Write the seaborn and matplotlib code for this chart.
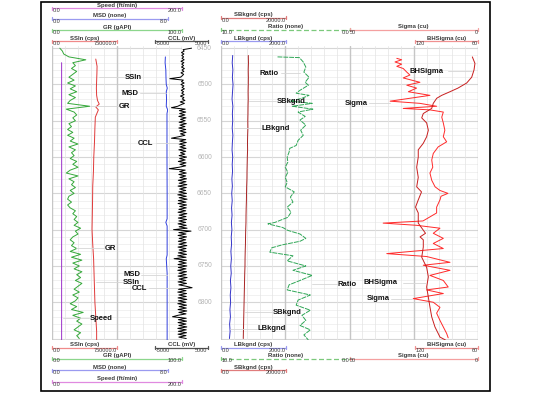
import numpy as np
import matplotlib
matplotlib.use("Agg")
import matplotlib.pyplot as plt
from matplotlib.patches import Rectangle
import seaborn as sns

sns.set_style("white")
plt.rcParams["font.family"] = ["Liberation Sans", "DejaVu Sans"]

W, H = 534, 394
TOP, BOT = 46, 340
D_TOP, D_BOT = 6447, 6852

depth_ticks = [6450, 6500, 6550, 6600, 6650, 6700, 6750, 6800]

speed_depth = [6470, 6550, 6650, 6750, 6852]
speed = [14.8, 14.8, 14.9, 14.8, 14.8]

gr_depth = np.arange(6450, 6851, 4)
gr = [6, 8, 9, 13, 26, 16, 18, 15, 19, 16,
      13, 17, 12, 18, 14, 19, 13, 18, 14, 12,
      29, 11, 17, 19, 16, 18, 13, 15, 12, 16,
      12, 17, 14, 20, 13, 18, 15, 17, 14, 19,
      16, 20, 14, 11, 20, 13, 17, 15, 18, 14,
      17, 13, 12, 15, 12, 14, 18, 16, 19, 17,
      20, 17, 22, 18, 20, 16, 14, 17, 15, 19,
      14, 22, 15, 23, 16, 21, 17, 23, 19, 22,
      18, 23, 20, 17, 21, 16, 20, 18, 14, 19,
      15, 24, 16, 22, 19, 23, 20, 17, 22, 19, 21]

ssin_depth = [6465, 6475, 6485, 6495, 6505, 6515, 6522, 6527, 6531, 6535, 6545,
              6560, 6580, 6600, 6620, 6640, 6660, 6680, 6700, 6720, 6740, 6760,
              6780, 6800, 6820, 6840, 6852]
ssin = [505000, 520000, 518000, 515000, 512000, 515000, 525000, 545000, 505000,
        535000, 500000, 495000, 490000, 482000, 478000, 470000, 468000, 465000,
        462000, 470000, 480000, 485000, 490000, 495000, 505000, 515000, 515000]

msd_depth = [6462, 6470, 6480, 6490, 6500, 6505, 6510, 6520, 6530, 6535, 6540,
             6560, 6600, 6650, 6685, 6690, 6695, 6720, 6735, 6740, 6760, 6800, 6852]
msd = [7.82, 7.80, 7.85, 7.86, 7.88, 7.95, 7.88, 7.90, 7.88, 7.98, 7.93, 7.93,
       7.93, 7.94, 7.94, 7.85, 7.94, 7.94, 7.94, 7.88, 7.94, 7.94, 7.94]

ccl_depth = np.arange(6450, 6851, 2)
ccl = [1900, 300, 500, 0, 450, 50, 400, 100, 500, -100,
       450, 50, 400, 0, 550, 100, 450, -100, 400, 150,
       -200, -2200, 350, 0, 500, -100, 450, 100, 550, -50,
       400, 50, 500, -200, 450, 150, 650, -250, 550, -150,
       -700, -1900, 700, -400, 800, -350, 650, -500, 850, -200,
       700, -450, 900, -300, 650, -500, 800, -350, 850, -200,
       650, -500, -1900, 800, -350, 900, -450, 700, -300, 850,
       -500, 800, -200, 650, -450, 950, -350, 700, -600, 850,
       -300, 800, -450, -2300, 700, -350, 900, -500, 800, -300,
       950, -600, 850, -450, 1000, -650, 900, -350, 800, -500,
       950, -700, 900, -450, 1050, -600, 850, -650, 950, -350,
       900, -500, 800, -650, 1000, -450, 850, -600, 950, -500,
       800, -650, 900, -450, 1050, -1500, 1800, -500, 850, -650,
       950, -450, 800, -600, 900, -500, 1000, -650, 850, -450,
       900, -600, 950, -700, 850, -1400, 950, -500, 900, -650,
       1000, -600, 850, -700, 950, -500, 900, -650, 1050, -450,
       850, -650, 950, -500, 900, 2000, -600, 850, -700, 950,
       -500, 900, -650, 1000, -600, 850, -700, 950, -450, 900,
       -650, 1000, -500, 850, -700, -1700, 900, -600, 950, -650,
       850, -500, 1000, -700, 900, -600, 950, -650, 850, -500,
       900]

bkg_depth = np.arange(6460, 6851, 10)
lbkgnd = [360, 345, 365, 350, 370, 355, 340, 365, 350, 360,
          345, 365, 350, 340, 360, 345, 355, 335, 350, 330,
          345, 325, 340, 320, 335, 315, 325, 305, 320, 300,
          315, 290, 305, 285, 295, 275, 290, 265, 280, 260]
sbkgnd = [8400, 8450, 8380, 8420, 8400, 8350, 8380, 8320, 8300, 8250,
          8280, 8200, 8150, 8180, 8100, 8050, 8000, 7980, 7900, 7850,
          7820, 7750, 7700, 7680, 7600, 7550, 7520, 7450, 7400, 7380,
          7300, 7250, 7200, 7150, 7100, 7050, 7000, 6950, 6900, 6850]

ratio_depth = [6462, 6463, 6469, 6476, 6483, 6490, 6497, 6501, 6508, 6512,
               6515, 6519, 6523, 6526, 6530, 6534, 6538, 6544, 6549, 6556,
               6563, 6570, 6577, 6584, 6588, 6593, 6600, 6607, 6614, 6621,
               6628, 6635, 6641, 6648, 6655, 6662, 6669, 6676, 6683, 6690,
               6692, 6697, 6701, 6706, 6712, 6716, 6721, 6725, 6731, 6736,
               6743, 6750, 6756, 6763, 6770, 6776, 6783, 6790, 6797, 6804,
               6811, 6818, 6825, 6832, 6838, 6845, 6852]
ratio = [5.6, 3.9, 3.6, 3.4, 3.55, 3.15, 3.45, 3.2, 3.85, 4.15,
         3.15, 3.7, 4.6, 2.9, 4.45, 2.85, 4.0, 3.45, 3.85, 3.4,
         3.8, 3.6, 4.0, 4.15, 4.65, 4.7, 4.85, 4.8, 5.0, 4.8,
         5.0, 4.85, 5.0, 4.3, 4.6, 4.4, 4.85, 4.55, 4.8, 5.8,
         6.35, 5.2, 4.8, 3.85, 3.4, 3.85, 5.25, 6.05, 6.2, 4.4,
         4.85, 3.4, 4.4, 2.9, 3.85, 4.7, 4.85, 3.05, 4.0, 4.15,
         3.05, 3.7, 3.4, 3.85, 3.05, 3.55, 3.2]

sigma_depth = [6464, 6466, 6469, 6472, 6475, 6478, 6483, 6487, 6491, 6497,
               6501, 6505, 6510, 6515, 6519, 6523, 6526, 6530, 6533, 6535,
               6538, 6545, 6553, 6563, 6572, 6579, 6586, 6595, 6604, 6614,
               6622, 6632, 6641, 6646, 6650, 6654, 6659, 6669, 6677, 6688,
               6691, 6694, 6698, 6705, 6712, 6719, 6726, 6733, 6737, 6745,
               6749, 6756, 6763, 6770, 6779, 6783, 6788, 6795, 6800, 6807,
               6815, 6825, 6834, 6843, 6849]
sigma = [31.6, 29.7, 32.3, 29.7, 31.6, 29.1, 27.7, 26.5, 29.1, 22.6,
         27.7, 23.9, 27.1, 18.7, 26.5, 34.2, 22.6, 16.1, 29.1, 18.7,
         13.5, 14.1, 13.5, 12.9, 13.5, 12.2, 15.5, 17.4, 18.0, 17.6,
         18.7, 18.0, 16.7, 14.8, 11.7, 14.4, 14.8, 16.1, 16.1, 21.4,
         36.9, 23.9, 14.8, 17.4, 13.5, 17.4, 13.5, 35.5, 20.0, 10.9,
         21.3, 10.9, 18.7, 13.5, 11.6, 20.0, 13.5, 25.2, 17.4, 14.8,
         16.1, 14.8, 13.5, 12.2, 11.6]

bhsigma_depth = [6462, 6471, 6480, 6490, 6498, 6505, 6510, 6515, 6519, 6526,
                 6533, 6540, 6546, 6553, 6563, 6572, 6581, 6590, 6600, 6614,
                 6628, 6641, 6648, 6659, 6669, 6677, 6691, 6705, 6710, 6714,
                 6724, 6738, 6752, 6765, 6779, 6793, 6807, 6820, 6834, 6848, 6852]
bhsigma = [65.4, 62.9, 63.8, 66.0, 70.8, 79.1, 86.7, 94.6, 99.3, 102.6,
           104.1, 112.1, 113.6, 108.9, 107.3, 108.9, 112.1, 116.9, 116.9, 118.4,
           116.9, 118.4, 113.8, 116.9, 119.5, 116.9, 116.9, 110.0, 115.2, 112.1,
           112.1, 113.6, 108.9, 107.3, 108.9, 107.3, 105.7, 104.1, 101.0, 96.2, 91.0]

fig = plt.figure(figsize=(W / 100, H / 100), dpi=100)


def px_axes(x0, x1, y0=TOP, y1=BOT, **kw):
    return fig.add_axes([x0 / W, 1 - y1 / H, (x1 - x0) / W, (y1 - y0) / H], **kw)


def track(x0, x1, n_div, major_every):
    ax = px_axes(x0, x1)
    ax.set_xlim(0, n_div)
    ax.set_ylim(D_BOT, D_TOP)
    for d in range(6450, 6851, 10):
        heavy = d % 50 == 0
        ax.axhline(d, color="#d6d6d6" if heavy else "#ececec", lw=0.8 if heavy else 0.5)
    for i in range(n_div + 1):
        heavy = i % major_every == 0
        ax.axvline(i, color="#c6c6c6" if heavy else "#e3e3e3", lw=1.0 if heavy else 0.5)
    ax.set_xticks([])
    ax.set_yticks([])
    for s in ax.spines.values():
        s.set_visible(False)
    return ax


def curve(x0, x1, lo, hi, depth, values, color, lw=0.7, **kw):
    ax = px_axes(x0, x1)
    ax.patch.set_alpha(0)
    sns.lineplot(x=values, y=depth, ax=ax, color=color, linewidth=lw,
                 sort=False, estimator=None, orient="y", legend=False, **kw)
    ax.set_xlim(lo, hi)
    ax.set_ylim(D_BOT, D_TOP)
    ax.axis("off")
    return ax


track(52, 182, 10, 5)
track(221, 478, 20, 5)

# depth column
dax = px_axes(188, 218)
dax.set_xlim(0, 1)
dax.set_ylim(D_BOT, D_TOP)
dax.axis("off")
for d in depth_ticks:
    dax.text(0.55, d, str(d), ha="center", va="center", fontsize=4.8, color="#b4b4b4")

# track 1 curves
curve(52, 182, 0, 200, speed_depth, speed, "#9b30c8")
curve(52, 182, 0, 100, gr_depth, gr, "#35a83a")
curve(52, 117, 0, 750000, ssin_depth, ssin, "#e03a3a")
curve(52, 168, 0, 8, msd_depth, msd, "#3040dd")
curve(155, 208, -5000, 5000, ccl_depth, ccl, "black", lw=0.7)

# track 2 curves
curve(221, 286, 0, 2000, bkg_depth, lbkgnd, "#3535c8")
curve(221, 286, 0, 20000, bkg_depth, sbkgnd, "#a82424")
curve(221, 349.5, 10, 0, ratio_depth, ratio, "#2fa656", linestyle=(0, (5, 1)))
curve(349.5, 478, 50, 0, sigma_depth, sigma, "#ff2a2a")
curve(415, 478, 120, 60, bhsigma_depth, bhsigma, "#c81e1e")

# overlay in pixel space for headers, labels and frame
ov = fig.add_axes([0, 0, 1, 1], zorder=10)
ov.patch.set_alpha(0)
ov.set_xlim(0, W)
ov.set_ylim(H, 0)
ov.axis("off")


def header(x0, x1, y, title, lo, hi, color, ls="-"):
    ov.plot([x0, x1], [y, y], color=color, lw=0.9, ls=ls)
    ov.plot([x0, x0], [y - 1.5, y + 1.5], color=color, lw=0.9)
    ov.plot([x1, x1], [y - 1.5, y + 1.5], color=color, lw=0.9)
    ov.text((x0 + x1) / 2, y - 2.6, title, ha="center", va="center",
            fontsize=4.3, color="#3a3a3a", fontweight="bold")
    ov.text(x0 + 0.5, y + 2.5, lo, ha="left", va="center", fontsize=4.0, color="#3a3a3a")
    ov.text(x1 - 0.5, y + 2.5, hi, ha="right", va="center", fontsize=4.0, color="#3a3a3a")


def track1_headers(ys):
    header(52, 182, ys[0], "Speed (ft/min)", "0.0", "200.0", "#e08ae0")
    header(52, 168, ys[1], "MSD (none)", "0.0", "8.0", "#9a9af0")
    header(52, 182, ys[2], "GR (gAPI)", "0.0", "100.0", "#8cd68c")
    header(52, 117, ys[3], "SSIn (cps)", "0.0", "750000.0", "#f08a8a")
    header(155, 208, ys[3], "CCL (mV)", "-5000", "5000", "#555555")


def track2_headers(ys):
    header(221, 286, ys[0], "SBkgnd (cps)", "0.0", "20000.0", "#e07c7c")
    header(221, 349.5, ys[1], "Ratio (none)", "10.0", "0.0", "#7cc97c", ls=(0, (4, 2)))
    header(349.5, 478, ys[1], "Sigma (cu)", "50", "0", "#f4a0a0")
    header(221, 286, ys[2], "LBkgnd (cps)", "0.0", "2000.0", "#9a9af0")
    header(415, 478, ys[2], "BHSigma (cu)", "120", "60", "#f09090")


track1_headers([8, 18.5, 30, 41])
track1_headers([381.5, 370, 358.5, 347.5])
track2_headers([17.5, 29.5, 41])
track2_headers([370, 358.5, 347.5])

# curve name tags with leader lines: (text, x, y, leader start, leader end)
tags = [
    ("SSIn", 125, 77, 99, 124), ("MSD", 122, 93, 140, 166),
    ("GR", 119, 106, 90, 118), ("CCL", 138, 143, 156, 179),
    ("GR", 105, 248, 76, 104), ("MSD", 123, 275, 141, 167),
    ("SSIn", 123, 282, 96, 122), ("CCL", 132, 288, 149, 178),
    ("Speed", 90, 318, 63, 89),
    ("Ratio", 260, 73, 281, 300), ("SBkgnd", 277, 101, 249, 276),
    ("LBkgnd", 262, 128, 234, 261), ("Sigma", 345, 103, 369, 390),
    ("BHSigma", 410, 71, 448, 472), ("Ratio", 338, 284, 312, 337),
    ("BHSigma", 364, 283, 403, 426), ("Sigma", 367, 299, 391, 412),
    ("SBkgnd", 273, 312, 245, 272), ("LBkgnd", 258, 329, 230, 257),
]
for name, x, y, a, b in tags:
    ov.plot([a, b], [y, y], color="#d6d6d6", lw=0.6)
    ov.text(x, y, name, ha="left", va="center", fontsize=5.5,
            fontweight="bold", color="#111111")

ov.add_patch(Rectangle((41, 2), 449, 389, fill=False, lw=1.2, ec="black"))

fig.savefig("out.png", dpi=100)
